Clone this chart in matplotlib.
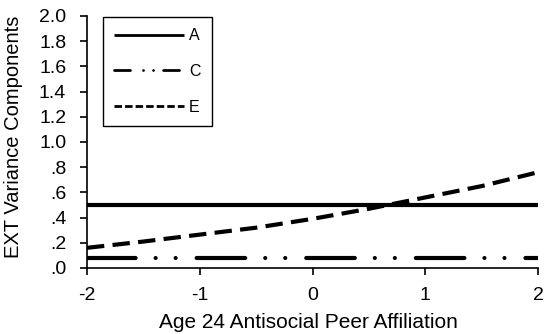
import matplotlib
matplotlib.use("Agg")
import matplotlib.pyplot as plt
from matplotlib.lines import Line2D

x_vals = [-2, -1.5, -1, -0.5, 0, 0.5, 1, 1.5, 2]
a_vals = [0.50] * 9
c_vals = [0.08] * 9
e_vals = [0.16, 0.21, 0.265, 0.32, 0.39, 0.47, 0.56, 0.65, 0.76]
y_ticks = [0.0, 0.2, 0.4, 0.6, 0.8, 1.0, 1.2, 1.4, 1.6, 1.8, 2.0]
y_ticklabels = [".0", ".2", ".4", ".6", ".8", "1.0", "1.2", "1.4", "1.6", "1.8", "2.0"]
x_ticks = [-2, -1, 0, 1, 2]
x_ticklabels = ["-2", "-1", "0", "1", "2"]
series_labels = ["A", "C", "E"]

plt.rcParams['font.family'] = ['Liberation Sans', 'DejaVu Sans']
plt.rcParams['lines.scale_dashes'] = False

fig = plt.figure(figsize=(5.46, 3.34), dpi=100)
ax = fig.add_axes([87/546, 1-268/334, (538-87)/546, (268-16)/334])

ax.plot(x_vals, a_vals, color='black', lw=3, solid_capstyle='butt')
ax.plot(x_vals, c_vals, color='black', lw=3, dash_capstyle='round',
        dashes=(35, 14.4, 0.01, 14.4, 0.01, 15.1))
ax.plot(x_vals, e_vals, color='black', lw=3, dash_capstyle='butt',
        dashes=(12.5, 6))

ax.set_xlim(-2, 2)
ax.set_ylim(0, 2)
ax.set_xticks(x_ticks)
ax.set_xticklabels(x_ticklabels)
ax.set_yticks(y_ticks)
ax.set_yticklabels(y_ticklabels)
ax.tick_params(axis='both', direction='out', length=5, width=1.2, labelsize=14, colors='black')
ax.tick_params(axis='y', pad=10)
ax.tick_params(axis='x', pad=9)
ax.spines['top'].set_visible(False)
ax.spines['right'].set_visible(False)
ax.spines['left'].set_linewidth(1.2)
ax.spines['bottom'].set_linewidth(1.2)

fig.text(308/546, 1-323/334, "Age 24 Antisocial Peer Affiliation", fontsize=15,
         ha='center', va='center')
fig.text(14/546, 1-137/334, "EXT Variance Components", rotation=90, fontsize=14.5,
         ha='center', va='center')

handles = [
    Line2D([], [], color='black', lw=2, solid_capstyle='butt'),
    Line2D([], [], color='black', lw=2, dash_capstyle='round',
           dashes=(11.5, 9.4, 0.01, 7.2, 0.01, 7.2)),
    Line2D([], [], color='black', lw=2, dash_capstyle='butt', dashes=(5.4, 2.2)),
]
leg = ax.legend(handles, series_labels, loc='upper left',
                bbox_to_anchor=(103/546, 1-17/334),
                bbox_transform=fig.transFigure, borderaxespad=0,
                fontsize=11.5, handlelength=4.4, handletextpad=0.3,
                labelspacing=1.3, fancybox=False, edgecolor='black',
                framealpha=1, borderpad=0.7)
leg.get_frame().set_linewidth(1.0)

fig.savefig("out.png", dpi=100)
